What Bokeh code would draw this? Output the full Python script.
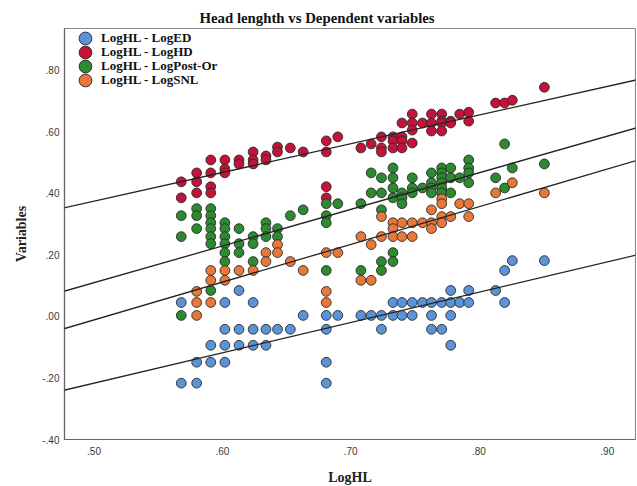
from bokeh.plotting import figure
from bokeh.models import Range1d, FixedTicker, Slope, Legend, LegendItem
from bokeh.embed import file_html
from bokeh.resources import INLINE

# ---- data ----
ed_x = [.568, .568, .580, .580, .591, .591, .602, .602, .602, .602,
        .613, .613, .613, .624, .624, .624, .634, .634, .643, .653,
        .663, .681, .681, .681, .681, .690, .708, .716, .724, .724,
        .733, .733, .740, .740, .748, .748, .756, .763, .763, .763,
        .771, .771, .778, .778, .778, .778, .785, .792, .792, .813,
        .820, .820, .826, .851]
ed_y = [.045, -.217, -.149, -.217, -.094, -.149, .045, -.042, -.094, -.149,
        .084, -.042, -.094, .045, -.042, -.094, -.042, -.094, -.042, -.042,
        .003, .003, -.042, -.149, -.217, .003, .003, .003, .003, -.042,
        .045, .003, .045, .003, .045, .003, .045, .045, .003, -.042,
        .045, -.042, .084, .045, .003, -.094, .045, .084, .045, .084,
        .045, .149, .181, .181]

hd_x = [.568, .568, .580, .580, .580, .591, .591, .591, .591, .602,
        .602, .602, .613, .613, .624, .624, .624, .634, .634, .643,
        .643, .653, .663, .681, .681, .681, .681, .690, .708, .716,
        .724, .724, .724, .733, .733, .733, .740, .740, .740, .740,
        .748, .748, .748, .748, .756, .763, .763, .763, .771, .771,
        .771, .771, .778, .778, .785, .792, .792, .813, .820, .826,
        .851]
hd_y = [.437, .385, .466, .437, .401, .508, .466, .421, .401, .508,
        .479, .466, .508, .495, .534, .508, .495, .521, .508, .550,
        .534, .547, .534, .570, .534, .421, .385, .583, .547, .560,
        .583, .547, .534, .583, .570, .547, .628, .583, .570, .547,
        .657, .628, .605, .563, .628, .657, .628, .602, .657, .634,
        .628, .602, .634, .628, .657, .663, .634, .693, .693, .702,
        .744]

po_x = [.568, .568, .568, .580, .580, .580, .591, .591, .591, .591,
        .591, .591, .591, .602, .602, .602, .602, .602, .602, .613,
        .613, .613, .624, .624, .624, .634, .634, .634, .643, .643,
        .653, .663, .681, .681, .681, .681, .690, .708, .708, .716,
        .716, .724, .724, .724, .724, .724, .733, .733, .733, .733,
        .733, .733, .740, .740, .740, .748, .748, .748, .756, .763,
        .763, .763, .763, .771, .771, .771, .771, .771, .771, .778,
        .778, .778, .785, .792, .792, .792, .792, .813, .820, .820,
        .826, .851]
po_y = [.327, .259, .003, .350, .327, .285, .350, .327, .304, .285,
        .259, .236, .084, .304, .285, .259, .236, .207, .178, .285,
        .236, .207, .259, .236, .178, .304, .285, .259, .285, .259,
        .327, .346, .366, .327, .304, .149, .366, .366, .149, .466,
        .401, .450, .401, .346, .178, .149, .482, .450, .417, .385,
        .207, .178, .401, .385, .366, .450, .417, .401, .417, .466,
        .434, .417, .401, .482, .466, .450, .434, .417, .401, .482,
        .450, .401, .450, .508, .482, .466, .434, .450, .560, .417,
        .482, .495]

snl_x = [.580, .580, .580, .591, .591, .591, .602, .602, .613, .624,
         .634, .634, .643, .643, .653, .663, .681, .681, .681, .690,
         .708, .708, .716, .716, .724, .724, .733, .733, .733, .740,
         .740, .748, .748, .756, .763, .763, .763, .771, .771, .771,
         .771, .778, .785, .792, .792, .813, .826, .851]
snl_y = [.081, .045, .003, .149, .117, .045, .149, .117, .149, .149,
         .207, .178, .233, .207, .178, .149, .207, .081, .045, .207,
         .259, .117, .233, .117, .324, .259, .304, .285, .259, .304,
         .259, .304, .259, .304, .346, .304, .285, .382, .366, .324,
         .304, .324, .366, .366, .324, .401, .434, .401]

# fit lines as drawn in the reference (slope, intercept) per series
fit_slopes = [0.984, 0.932, 1.189, 1.225]
fit_intercepts = [-0.709, -0.092, -0.485, -0.624]

series_labels = ["LogHL - LogED", "LogHL - LogHD", "LogHL - LogPost-Or", "LogHL - LogSNL"]
series_colors = ["#5B93D8", "#C4133A", "#2E8A30", "#E8773A"]

x_ticks = [0.5, 0.6, 0.7, 0.8, 0.9]
x_tick_labels = [".50", ".60", ".70", ".80", ".90"]
y_ticks = [-0.4, -0.2, 0.0, 0.2, 0.4, 0.6, 0.8]
y_tick_labels = ["-.40", "-.20", ".00", ".20", ".40", ".60", ".80"]

# ---- figure ----
FRAME_H = 411
p = figure(frame_width=571, frame_height=FRAME_H, output_backend="svg",
           toolbar_location=None,
           x_range=Range1d(0.477, 0.922), y_range=Range1d(-0.40, 0.935),
           min_border_left=64, min_border_right=1, min_border_top=28,
           min_border_bottom=46)

p.title.text = "Head lenghth vs Dependent variables"
p.title.text_font = "Liberation Serif"
p.title.text_font_style = "bold"
p.title.text_font_size = "14.8px"
p.title.text_color = "#111111"
p.title.align = "left"
p.title.offset = 135
p.title.standoff = 5

p.xgrid.visible = False
p.ygrid.visible = False
p.outline_line_color = "#8a8a8a"
p.outline_line_width = 1.2
p.background_fill_color = "white"
p.border_fill_color = "white"

for ax in (p.xaxis[0], p.yaxis[0]):
    ax.axis_line_color = "#666666"
    ax.axis_line_width = 1.2
    ax.major_tick_line_color = None
    ax.minor_tick_line_color = None
    ax.major_tick_out = 0
    ax.major_tick_in = 0
    ax.major_label_text_font = "Liberation Sans"
    ax.major_label_text_font_size = "10px"
    ax.major_label_text_color = "#3a3a3a"
    ax.axis_label_text_font = "Liberation Serif"
    ax.axis_label_text_font_style = "bold"
    ax.axis_label_text_font_size = "14px"
    ax.axis_label_text_color = "#222222"

p.xaxis.ticker = FixedTicker(ticks=x_ticks)
p.xaxis.major_label_overrides = dict(zip(x_ticks, x_tick_labels))
p.yaxis.ticker = FixedTicker(ticks=y_ticks)
p.yaxis.major_label_overrides = dict(zip(y_ticks, y_tick_labels))
p.xaxis.axis_label = "LogHL"
p.yaxis.axis_label = "Variables"
p.xaxis.major_label_standoff = 7
p.yaxis.major_label_standoff = 5
p.xaxis.axis_label_standoff = 12
p.yaxis.axis_label_standoff = 10

xs = [ed_x, hd_x, po_x, snl_x]
ys = [ed_y, hd_y, po_y, snl_y]
renderers = []
for sx, sy, col in zip(xs, ys, series_colors):
    r = p.scatter(sx, sy, size=9.8, fill_color=col, line_color="#2a2a2a",
                  line_width=0.9)
    renderers.append(r)

for m, b in zip(fit_slopes, fit_intercepts):
    p.add_layout(Slope(gradient=m, y_intercept=b,
                       line_color="#222222", line_width=1.3))

# one legend block per entry, stacked 14 px apart at the top left
for i, (lab, r) in enumerate(zip(series_labels, renderers)):
    lg = Legend(items=[LegendItem(label=lab, renderers=[r])],
                location=(5, FRAME_H - 26 - 14 * i),
                glyph_width=32, glyph_height=32, label_height=14,
                padding=0, margin=0, spacing=0, label_standoff=0,
                border_line_color=None, background_fill_alpha=0,
                label_text_font="Liberation Serif",
                label_text_font_style="bold",
                label_text_font_size="13px",
                label_text_color="#111111")
    p.add_layout(lg)

open("out.html", "w").write(file_html(p, INLINE))
